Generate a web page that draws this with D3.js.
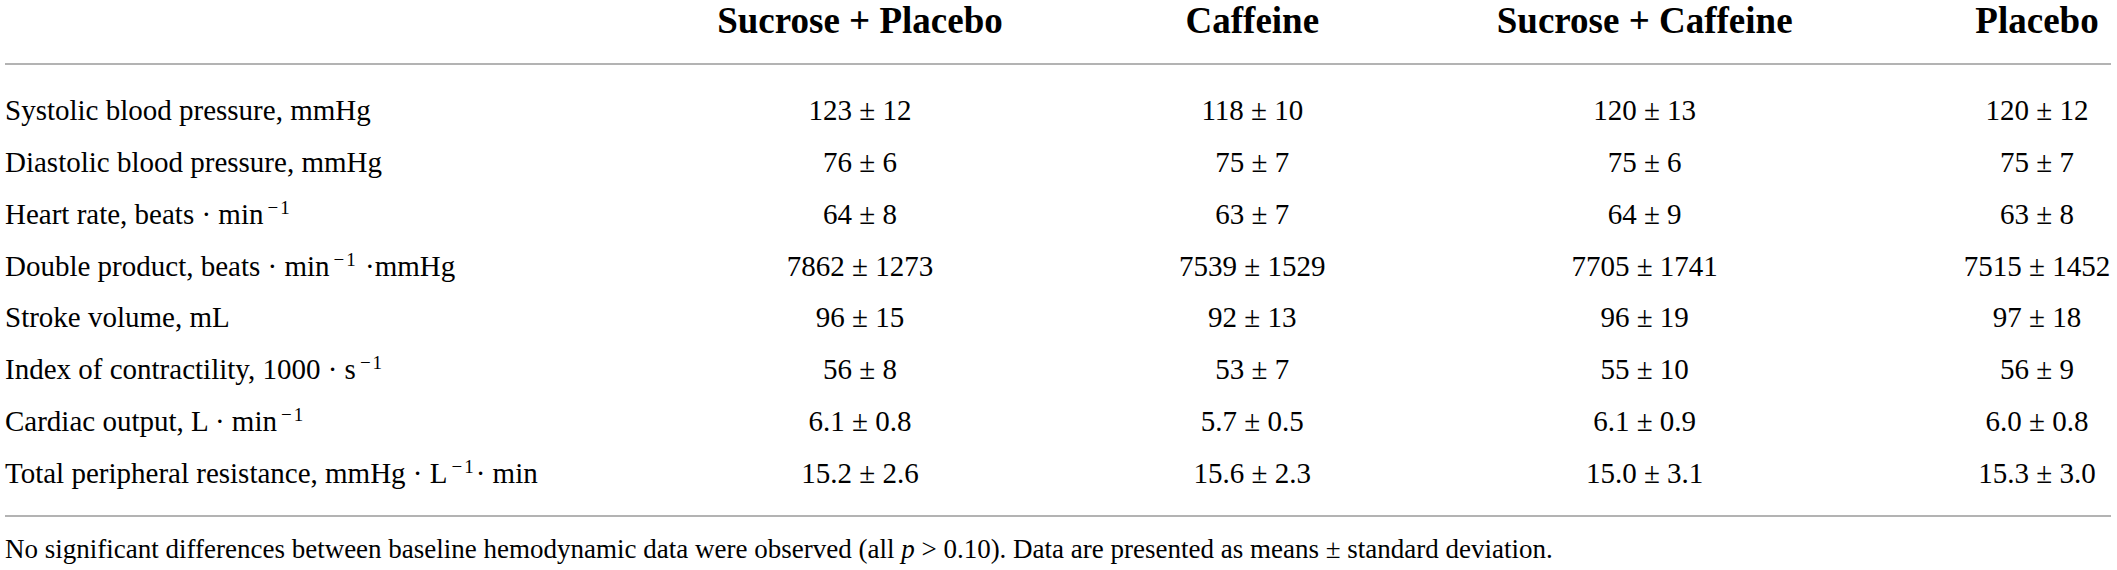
<!DOCTYPE html>
<html>
<head>
<meta charset="utf-8">
<script src="https://cdn.jsdelivr.net/npm/d3@7"></script>
<style>
  html, body { margin: 0; padding: 0; background: #fff; }
  svg { display: block; }
</style>
</head>
<body>
<svg id="chart" width="2117" height="570"></svg>
<script>
// ---- data ----
const columns = ["Sucrose + Placebo", "Caffeine", "Sucrose + Caffeine", "Placebo"];
const rowLabels = [
  "Systolic blood pressure, mmHg",
  "Diastolic blood pressure, mmHg",
  "Heart rate, beats · min^{−1}",
  "Double product, beats · min^{−1} ·mmHg",
  "Stroke volume, mL",
  "Index of contractility, 1000 · s^{−1}",
  "Cardiac output, L · min^{−1}",
  "Total peripheral resistance, mmHg · L^{−1}· min"
];
const sucrosePlaceboMean = ["123", "76", "64", "7862", "96", "56", "6.1", "15.2"];
const sucrosePlaceboSD   = ["12", "6", "8", "1273", "15", "8", "0.8", "2.6"];
const caffeineMean       = ["118", "75", "63", "7539", "92", "53", "5.7", "15.6"];
const caffeineSD         = ["10", "7", "7", "1529", "13", "7", "0.5", "2.3"];
const sucroseCaffeineMean= ["120", "75", "64", "7705", "96", "55", "6.1", "15.0"];
const sucroseCaffeineSD  = ["13", "6", "9", "1741", "19", "10", "0.9", "3.1"];
const placeboMean        = ["120", "75", "63", "7515", "97", "56", "6.0", "15.3"];
const placeboSD          = ["12", "7", "8", "1452", "18", "9", "0.8", "3.0"];
const footnoteParts = [
  {t: "No significant differences between baseline hemodynamic data were observed (all ", i: false},
  {t: "p", i: true},
  {t: " > 0.10). Data are presented as means ± standard deviation.", i: false}
];

// ---- build table ----
const means = [sucrosePlaceboMean, caffeineMean, sucroseCaffeineMean, placeboMean];
const sds = [sucrosePlaceboSD, caffeineSD, sucroseCaffeineSD, placeboSD];
const cells = [];
columns.forEach((c, ci) => rowLabels.forEach((r, ri) => {
  cells.push({col: c, row: r, text: means[ci][ri] + " ± " + sds[ci][ri]});
}));

const svg = d3.select("#chart");
const FONT = "'Liberation Serif', 'Times New Roman', serif";

const x = d3.scalePoint().domain(columns).range([860, 2037]);
const y = d3.scalePoint().domain(rowLabels).range([120, 483]);

// rules
const rules = [64, 516];
svg.selectAll("line.rule").data(rules).join("line")
  .attr("class", "rule")
  .attr("x1", 5).attr("x2", 2111)
  .attr("y1", d => d).attr("y2", d => d)
  .attr("stroke", "#9a9a9a").attr("stroke-width", 1.6);

// header
svg.selectAll("text.head").data(columns).join("text")
  .attr("class", "head")
  .attr("x", d => x(d)).attr("y", 33)
  .attr("text-anchor", "middle")
  .attr("font-family", FONT).attr("font-weight", "bold")
  .attr("font-size", 37).attr("fill", "#000")
  .text(d => d);

// row labels with superscripts
function parseLabel(s) {
  const parts = [];
  const re = /\^\{([^}]*)\}/g;
  let last = 0, m;
  while ((m = re.exec(s)) !== null) {
    if (m.index > last) parts.push({t: s.slice(last, m.index), sup: false});
    parts.push({t: m[1], sup: true});
    last = re.lastIndex;
  }
  if (last < s.length) parts.push({t: s.slice(last), sup: false});
  return parts;
}
const SUP_DY = 10;
const labels = svg.selectAll("text.rowlab").data(rowLabels).join("text")
  .attr("class", "rowlab")
  .attr("x", 5).attr("y", d => y(d))
  .attr("font-family", FONT).attr("font-size", 29).attr("fill", "#000");
labels.each(function(d) {
  const t = d3.select(this);
  let raised = false;
  parseLabel(d).forEach(p => {
    const ts = t.append("tspan").text(p.t);
    if (p.sup && !raised) {
      ts.attr("dy", -SUP_DY).attr("dx", 4).attr("font-size", 19).attr("letter-spacing", 2);
      raised = true;
    } else if (!p.sup && raised) {
      ts.attr("dy", SUP_DY);
      raised = false;
    }
  });
});

// cells
svg.selectAll("text.cell").data(cells).join("text")
  .attr("class", "cell")
  .attr("x", d => x(d.col)).attr("y", d => y(d.row))
  .attr("text-anchor", "middle")
  .attr("font-family", FONT).attr("font-size", 29).attr("fill", "#000")
  .text(d => d.text);

// footnote
const fn = svg.append("text")
  .attr("x", 5).attr("y", 558)
  .attr("font-family", FONT).attr("font-size", 27).attr("fill", "#000");
fn.selectAll("tspan").data(footnoteParts).join("tspan")
  .attr("font-style", d => d.i ? "italic" : "normal")
  .text(d => d.t);
</script>
</body>
</html>
